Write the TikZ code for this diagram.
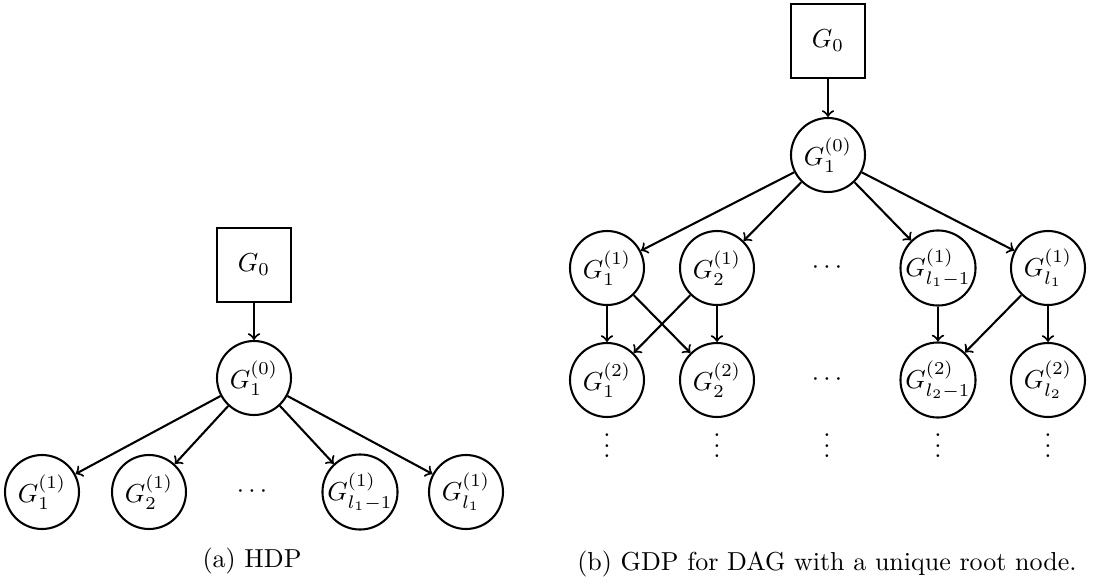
\documentclass[tikz,border=0pt]{standalone}
\begin{document}
\begin{tikzpicture}[x=0.3846pt,y=-0.3846pt,
  dist/.style={circle,draw,thick,minimum size=1cm,inner sep=0pt},
  basebox/.style={rectangle,draw,thick,minimum size=1cm,inner sep=0pt},
  more/.style={inner sep=0pt},
  edge/.style={->,thick}]
\useasboundingbox (0,0) rectangle (1097,579);

% (a) HDP
\node[basebox] (a0) at (254,265) {$G_0$};
\node[dist] (a1) at (254,378) {$G_1^{(0)}$};
\node[dist] (a11) at (42,492) {$G_1^{(1)}$};
\node[dist] (a12) at (149,492) {$G_2^{(1)}$};
\node[more] (adots) at (252,492) {$\cdots$};
\node[dist] (a13) at (360,492) {$G_{l_1-1}^{(1)}$};
\node[dist] (a14) at (466,492) {$G_{l_1}^{(1)}$};
\draw[edge] (a0) -- (a1);
\foreach \t in {a11,a12,a13,a14} \draw[edge] (a1) -- (\t);
\node[anchor=base] (capa) at (252,567) {(a) HDP};

% (b) GDP
\node[basebox] (b0) at (828,41) {$G_0$};
\node[dist] (b1) at (828,155) {$G_1^{(0)}$};
\node[dist] (b11) at (607,268) {$G_1^{(1)}$};
\node[dist] (b12) at (717,268) {$G_2^{(1)}$};
\node[more] (bdots1) at (827,268) {$\cdots$};
\node[dist] (b13) at (938,268) {$G_{l_1-1}^{(1)}$};
\node[dist] (b14) at (1048,268) {$G_{l_1}^{(1)}$};
\node[dist] (b21) at (607,380) {$G_1^{(2)}$};
\node[dist] (b22) at (717,380) {$G_2^{(2)}$};
\node[more] (bdots2) at (827,380) {$\cdots$};
\node[dist] (b23) at (938,380) {$G_{l_2-1}^{(2)}$};
\node[dist] (b24) at (1048,380) {$G_{l_2}^{(2)}$};
\foreach \c [count=\i] in {607,717,827,938,1048}
  \node[more] (v\i) at (\c,438) {$\vdots$};
\draw[edge] (b0) -- (b1);
\foreach \t in {b11,b12,b13,b14} \draw[edge] (b1) -- (\t);
\draw[edge] (b11) -- (b21);
\draw[edge] (b11) -- (b22);
\draw[edge] (b12) -- (b21);
\draw[edge] (b12) -- (b22);
\draw[edge] (b13) -- (b23);
\draw[edge] (b14) -- (b23);
\draw[edge] (b14) -- (b24);
\node[anchor=base] (capb) at (827,570) {(b) GDP for DAG with a unique root node.};
\end{tikzpicture}
\end{document}
